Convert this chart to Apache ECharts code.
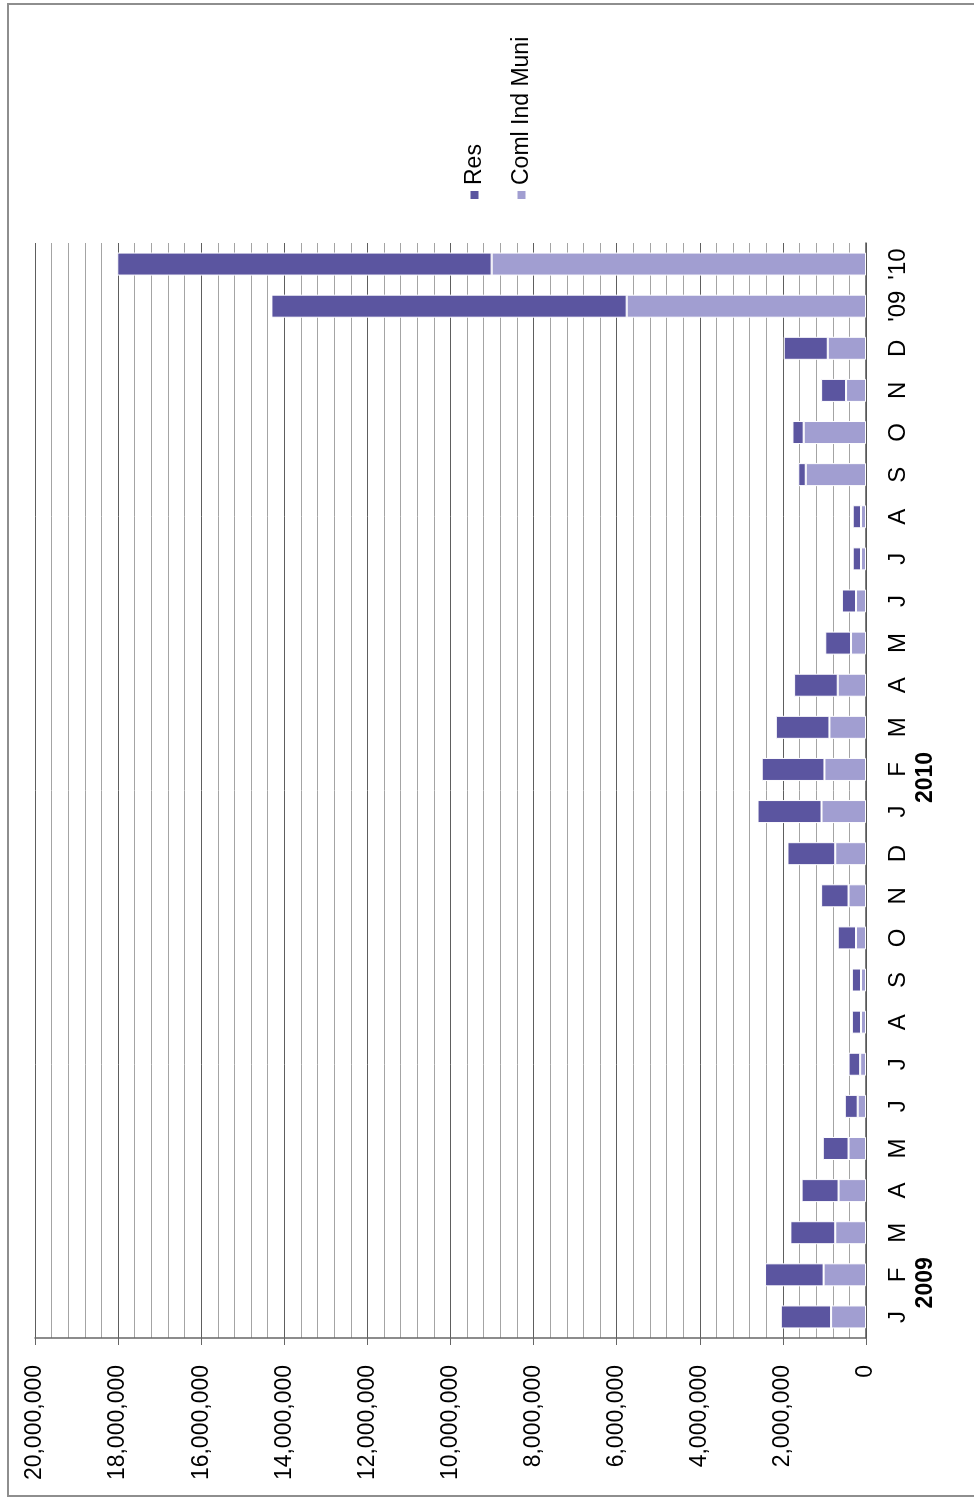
<!DOCTYPE html>
<html>
<head>
<meta charset="utf-8">
<title>Res / Coml Ind Muni</title>
<script src="https://cdn.jsdelivr.net/npm/echarts@6/dist/echarts.min.js"></script>
<style>
  html, body { margin: 0; padding: 0; background: #fff; overflow: hidden; }
  #frame {
    position: absolute; left: 7px; top: 3px; width: 1100px; height: 1494px;
    border: 2px solid #8e8e8e; border-right: none; box-sizing: border-box;
  }
  /* chart is laid out landscape and turned a quarter-turn counter-clockwise */
  #chart {
    position: absolute; left: 0; top: 0; width: 1503px; height: 974px;
    transform-origin: 0 0; transform: translate(0, 1503px) rotate(-90deg);
  }
</style>
</head>
<body>
<div id="frame"></div>
<div id="chart"></div>
<script>
// Monthly values for 2009 and 2010, followed by the two annual totals
const categories = ['J','F','M','A','M','J','J','A','S','O','N','D',
                    'J','F','M','A','M','J','J','A','S','O','N','D',
                    "'09","'10"];

const comlIndMuni = [840000, 1020000, 740000, 660000, 420000, 200000, 140000, 120000, 120000, 240000, 420000, 740000,
                     1070000, 1000000, 880000, 680000, 360000, 240000, 120000, 120000, 1450000, 1500000, 480000, 920000,
                     5760000, 9010000];

const res = [1210000, 1410000, 1080000, 890000, 620000, 310000, 280000, 220000, 220000, 440000, 660000, 1150000,
             1540000, 1510000, 1290000, 1050000, 620000, 340000, 200000, 200000, 180000, 270000, 600000, 1060000,
             8550000, 9010000];

// Year captions placed under the February label of each year
const yearLabels = ['2009', '2010'];
const yearLabelAt = [1, 13];

const valueTicks = { min: 0, max: 20000000, interval: 2000000 };

const FONT = "'Liberation Sans', Arial, sans-serif";

const chart = echarts.init(document.getElementById('chart'), null, { renderer: 'canvas' });

chart.setOption({
  backgroundColor: 'transparent',
  animation: false,
  textStyle: { fontFamily: FONT },
  legend: {
    orient: 'vertical',
    left: 1302,
    top: 463,
    padding: 0,
    itemWidth: 10,
    itemHeight: 10,
    itemGap: 24,
    icon: 'rect',
    data: ['Res', 'Coml Ind Muni'],
    textStyle: { fontFamily: FONT, fontSize: 23, color: '#000' }
  },
  grid: { left: 165, top: 35, width: 1095, height: 831, containLabel: false },
  xAxis: {
    type: 'category',
    data: categories,
    boundaryGap: true,
    axisLine: { show: true, lineStyle: { color: '#555555', width: 1.5 } },
    axisTick: { show: false },
    splitLine: { show: false },
    axisLabel: {
      interval: 0,
      margin: 19,
      fontFamily: FONT,
      fontSize: 24,
      lineHeight: 27,
      color: '#000',
      formatter: function (value, index) {
        const k = yearLabelAt.indexOf(index);
        if (k >= 0) return value + '\n{y|' + yearLabels[k] + '}';
        return value;
      },
      rich: {
        y: { fontFamily: FONT, fontSize: 23, fontWeight: 'bold', lineHeight: 27, color: '#000', padding: [0, 16, 0, 0] }
      }
    }
  },
  yAxis: {
    type: 'value',
    min: valueTicks.min,
    max: valueTicks.max,
    interval: valueTicks.interval,
    axisLine: { show: true, lineStyle: { color: '#666666', width: 1.5 } },
    axisTick: { show: true, length: 7, lineStyle: { color: '#666666' } },
    minorTick: { show: false, splitNumber: 5 },
    minorSplitLine: { show: true, lineStyle: { color: '#a4a4a4', width: 1 } },
    splitLine: { show: true, lineStyle: { color: '#5e5e5e', width: 1 } },
    axisLabel: {
      margin: 27,
      fontFamily: FONT,
      fontSize: 23,
      color: '#000',
      formatter: function (v) { return v.toLocaleString('en-US'); }
    }
  },
  series: [
    {
      name: 'Coml Ind Muni',
      type: 'bar',
      stack: 'total',
      barWidth: 23,
      data: comlIndMuni,
      itemStyle: { color: '#a19ed1', borderColor: '#ffffff', borderWidth: 1 }
    },
    {
      name: 'Res',
      type: 'bar',
      stack: 'total',
      barWidth: 23,
      data: res,
      itemStyle: { color: '#5b55a0', borderColor: '#ffffff', borderWidth: 1 }
    }
  ]
});
</script>
</body>
</html>
